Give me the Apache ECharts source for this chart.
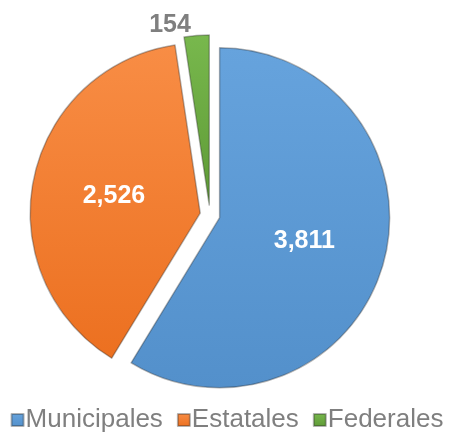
<!DOCTYPE html>
<html>
<head>
<meta charset="utf-8">
<script src="https://cdn.jsdelivr.net/npm/echarts@6/dist/echarts.min.js"></script>
<style>
  html, body { margin: 0; padding: 0; background: #fff; }
  #root1 { width: 454px; height: 433px; }
</style>
</head>
<body>
<div id="root1"></div>
<script>
const categories = ['Municipales', 'Estatales', 'Federales'];
const values = [3811, 2526, 154];
const colors = [
  ['#66a3dd', '#5390cb'],
  ['#f88d45', '#ec7020'],
  ['#78b84d', '#5e9a36']
];

const chartDom = document.getElementById('root1');
const myChart = echarts.init(chartDom);

const grad = (c) => new echarts.graphic.LinearGradient(0, 0, 0, 1, [
  { offset: 0, color: c[0] },
  { offset: 1, color: c[1] }
]);

const option = {
  animation: false,
  legend: {
    bottom: -5,
    left: 'center',
    icon: 'rect',
    itemWidth: 12,
    itemHeight: 12,
    itemGap: 14,
    textStyle: {
      fontFamily: 'Liberation Sans, Arial, sans-serif',
      fontSize: 26,
      color: '#7f7f7f',
      padding: [0, 0, 0, -3]
    },
    data: categories
  },
  series: [
    {
      type: 'pie',
      center: [210, 215],
      radius: [0, 170],
      startAngle: 90,
      selectedMode: 'multiple',
      selectedOffset: 10,
      labelLine: { show: false },
      label: {
        position: 'inside',
        formatter: (p) => p.value.toLocaleString('en-US'),
        fontFamily: 'Liberation Sans, Arial, sans-serif',
        fontWeight: 'bold',
        fontSize: 25,
        color: '#fff'
      },
      itemStyle: {
        borderColor: 'rgba(40,40,40,0.35)',
        borderWidth: 1.5
      },
      emphasis: { disabled: true },
      data: categories.map((name, i) => ({
        name: name,
        value: values[i],
        selected: true,
        itemStyle: { color: grad(colors[i]) },
        label: i === 2 ? { position: 'outside', color: '#7f7f7f' } : undefined,
        labelLine: i === 2 ? { show: false, length: 10, length2: 0 } : undefined
      }))
    }
  ],
  color: colors.map((c) => c[1])
};

myChart.setOption(option);
</script>
</body>
</html>
